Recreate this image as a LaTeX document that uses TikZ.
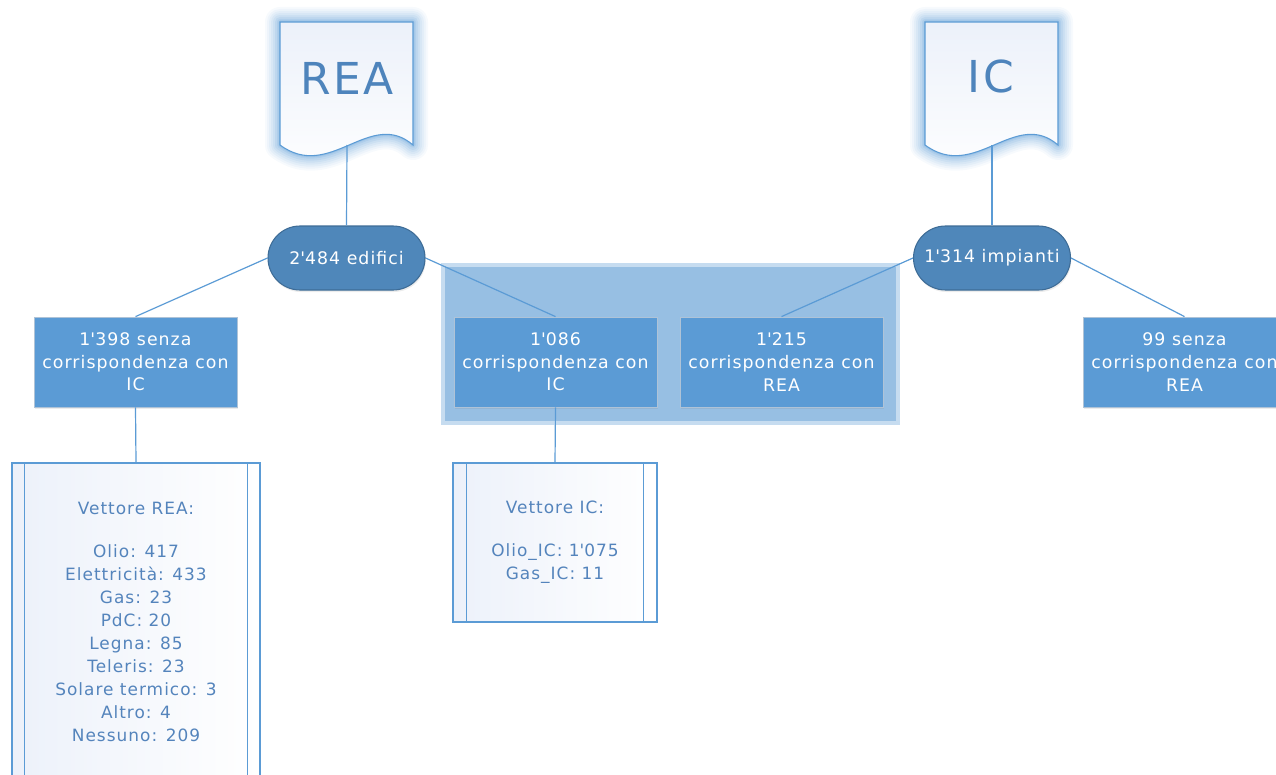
\documentclass[tikz,border=0pt]{standalone}
\usepackage{fontspec}
\setmainfont[LetterSpace=6]{DejaVu Sans}
\usetikzlibrary{shadows}

\definecolor{linea}{RGB}{91,155,213}
\definecolor{pillfill}{RGB}{79,135,186}
\definecolor{pillline}{RGB}{62,108,150}
\definecolor{boxfill}{RGB}{91,155,213}
\definecolor{boxline}{RGB}{175,195,215}
\definecolor{grpfill}{RGB}{151,191,227}
\definecolor{listfill}{RGB}{236,241,250}
\definecolor{listtext}{RGB}{84,132,188}
\definecolor{doctext}{RGB}{78,132,188}

% forma documento con bordo ondulato
\newcommand{\docshape}[1]{(#1,22) -- (#1+133,22) -- (#1+133,145) .. controls (#1+90,108) and (#1+50,182) .. (#1,145) -- cycle}

\begin{document}
\begin{tikzpicture}[x=0.75pt, y=-0.75pt,
	every edge/.style={draw=linea, line width=0.9pt},
	pill/.style={rounded corners=24pt, minimum width=117.75pt, minimum height=48pt, fill=pillfill, draw=pillline, line width=0.8pt, text=white, font=\fontsize{13}{15}\selectfont, drop shadow={opacity=0.15, shadow xshift=0.6pt, shadow yshift=-1.5pt}},
	box/.style={rectangle, minimum width=152.25pt, minimum height=67.5pt, fill=boxfill, draw=boxline, line width=0.6pt, text=white, align=center, font=\fontsize{13}{17}\selectfont, drop shadow={opacity=0.15, shadow xshift=1pt, shadow yshift=-1.5pt}},
	listbox/.style={rectangle, draw=linea, line width=0.8pt, shading=axis, shading angle=135, left color=listfill, right color=white, text=listtext, align=center, font=\fontsize{12.7}{17.25}\selectfont},
	docname/.style={text=doctext, font=\fontsize{33}{40}\selectfont}]
	\useasboundingbox (0,0) rectangle (1276,774);
	\clip (0,0) rectangle (1276,774);

	% documenti
	\foreach \dx in {280,925}{
		\foreach \w/\o in {30/0.05,26/0.06,22/0.07,18/0.08,14/0.1,10/0.12,6/0.15,3/0.2}
			\draw[linea, line width=\w*0.75pt, opacity=\o, line join=round] \docshape{\dx};
		\draw[linea, line width=0.8pt, top color=listfill, bottom color=white] \docshape{\dx};
	}
	\node[docname] (rea) at (347,78){REA};
	\node[docname] (ic) at (991,76){IC};
	\coordinate (reaBot) at (347,145);
	\coordinate (icBot) at (992,145);

	% gruppo corrispondenze
	\node[rectangle, fill=grpfill, draw=grpfill!55!white, line width=3pt, minimum width=341pt, minimum height=119pt] (gruppo) at (670.5,344){};

	\node[pill] (edifici) at (346.5,258){2\textquotesingle 484 edifici};
	\node[pill] (impianti) at (992,258){1\textquotesingle 314 impianti};

	\node[box] (senzaIC) at (135.5,362){1\textquotesingle 398 senza\\corrispondenza con\\IC};
	\node[box] (conIC) at (555.5,362){1\textquotesingle 086\\corrispondenza con\\IC};
	\node[box] (conREA) at (781.5,362){1\textquotesingle 215\\corrispondenza con\\REA};
	\node[box] (senzaREA) at (1184.5,362){99 senza\\corrispondenza con\\REA};

	\node[listbox, minimum width=186pt, minimum height=237.75pt] (vettREA) at (136,621.5){Vettore REA:\\[15pt]Olio: 417\\Elettricità: 433\\Gas: 23\\PdC: 20\\Legna: 85\\Teleris: 23\\Solare termico: 3\\Altro: 4\\Nessuno: 209};
	\node[listbox, minimum width=153pt, minimum height=119.25pt] (vettIC) at (555,542.5){Vettore IC:\\[15pt]Olio\_IC: 1\textquotesingle 075\\Gas\_IC: 11};
	\draw[linea, line width=0.8pt] ([xshift=10pt]vettREA.north west) -- ([xshift=10pt]vettREA.south west);
	\draw[linea, line width=0.8pt] ([xshift=-10pt]vettREA.north east) -- ([xshift=-10pt]vettREA.south east);
	\draw[linea, line width=0.8pt] ([xshift=10.5pt]vettIC.north west) -- ([xshift=10.5pt]vettIC.south west);
	\draw[linea, line width=0.8pt] ([xshift=-10.5pt]vettIC.north east) -- ([xshift=-10.5pt]vettIC.south east);

	\path (reaBot) edge (edifici.north);
	\path (icBot) edge (impianti.north);
	\path (edifici.west) edge (senzaIC.north);
	\path (edifici.east) edge (conIC.north);
	\path (impianti.west) edge (conREA.north);
	\path (impianti.east) edge (senzaREA.north);
	\path (senzaIC.south) edge (vettREA.north);
	\path (conIC.south) edge (vettIC.north);
\end{tikzpicture}
\end{document}
